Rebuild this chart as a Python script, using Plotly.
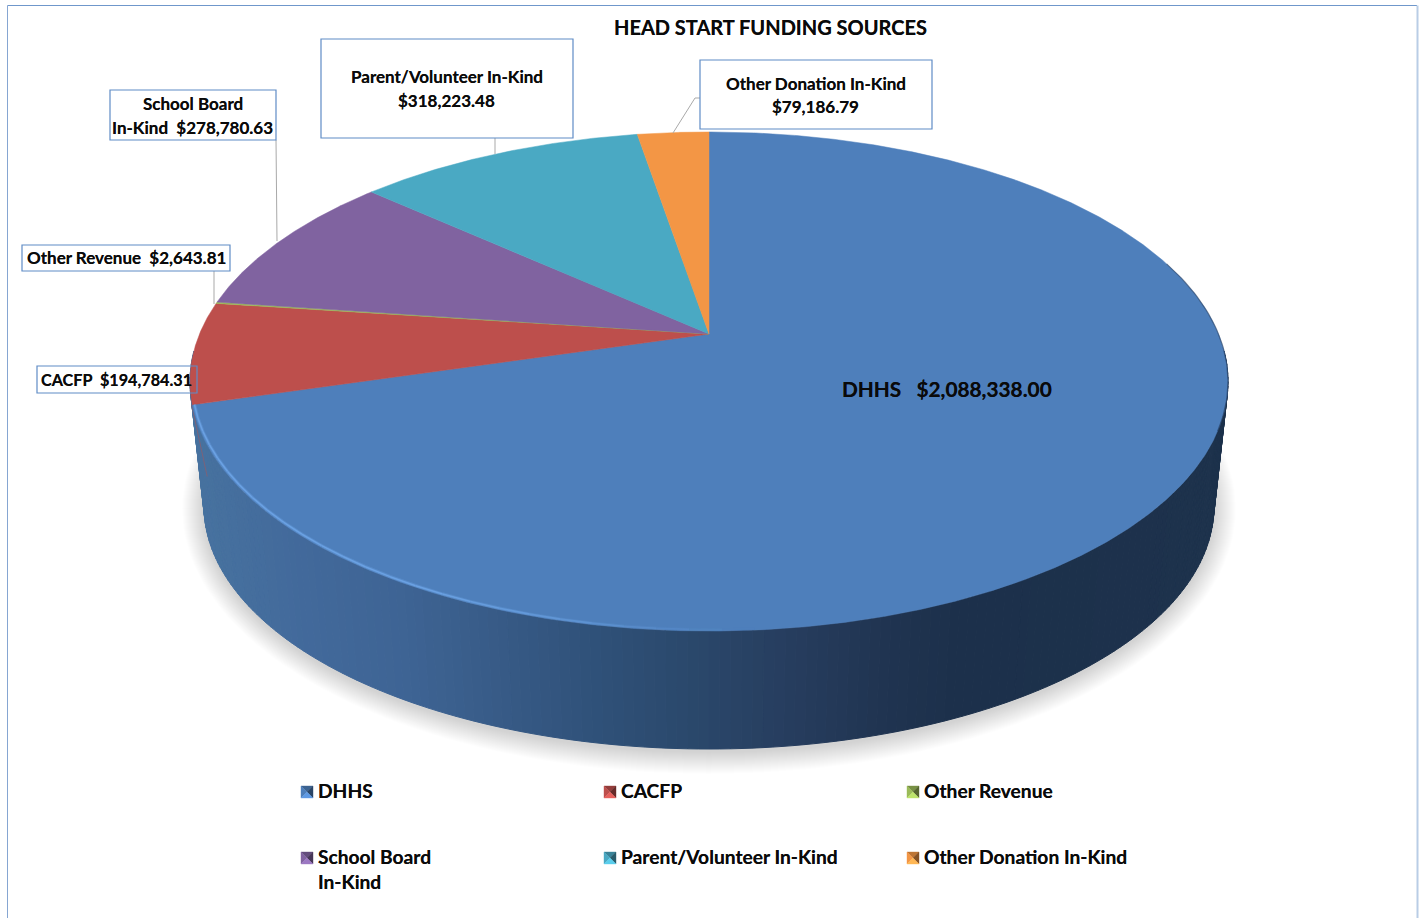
import numpy as np
import plotly.graph_objects as go

# Funding sources, clockwise from twelve o'clock
SOURCES = ["DHHS", "CACFP", "Other Revenue", "School Board In-Kind",
           "Parent/Volunteer In-Kind", "Other Donation In-Kind"]
AMOUNTS = [2088338.00, 194784.31, 2643.81, 278780.63, 318223.48, 79186.79]
SLICE_COLORS = ["#4e7fbb", "#bd4f4c", "#9bbb59", "#8063a0", "#4aa9c3", "#f39645"]
TITLE = "HEAD START FUNDING SOURCES"

FONT = "Lato, 'Open Sans', sans-serif"
INK = "#0a0a0a"
BOX_LINE = "#5f8cc6"
LEADER = "#a9a9a9"

# Perspective projection of the disc onto the page
CX, APEX_Y = 709.0, 334.0
K = 0.1904
A = -176.9
C = 509.5
DEPTH_SCALE = 0.973
VANISH_Y = 5000.0

W, H = 1422, 918


def project(theta_deg, r=1.0):
    t = np.radians(theta_deg)
    u, v = r * np.sin(t), r * np.cos(t)
    w = 1 + K * v
    return CX + C * u / w, (A * v + APEX_Y) / w


def lower(x, y):
    return CX + DEPTH_SCALE * (x - CX), VANISH_Y + DEPTH_SCALE * (y - VANISH_Y)


def hex_rgb(h):
    return np.array([int(h[i:i + 2], 16) for i in (1, 3, 5)], dtype=float)


def shade(h, f):
    c = np.clip(hex_rgb(h) * f, 0, 255).astype(int)
    return f"rgb({c[0]},{c[1]},{c[2]})"


total = sum(AMOUNTS)
edges = np.concatenate([[0.0], np.cumsum(AMOUNTS)]) / total * 360.0

fig = go.Figure()


def polygon(xs, ys, fill, line=None, width=0):
    fig.add_trace(go.Scatter(
        x=list(xs), y=list(ys), mode="lines", fill="toself", fillcolor=fill,
        line=dict(color=line or fill, width=width), hoverinfo="skip", showlegend=False))


# Soft drop shadow under the base
angles = np.linspace(0, 360, 181)
for e in range(1, 23):
    grow = 23 - e
    polygon(CX + (505 + grow) * np.sin(np.radians(angles)),
            509 + (243 + grow) * np.cos(np.radians(angles)),
            "rgba(0,0,0,0.0085)")

# Side wall: vertical strips shaded from left to right
WALL_X = [190, 300, 400, 500, 600, 700, 800, 900, 960, 1240]
WALL_RGB = np.array([hex_rgb(c) for c in
                     ["#47729f", "#42699b", "#3e6494", "#375a86", "#2f5078", "#2a476a",
                      "#263c5d", "#1f334f", "#1c304b", "#1d324c"]])
step = 1.0
for th in np.arange(94, 266, step):
    x0, y0 = project(th)
    x1, y1 = project(th + step)
    bx0, by0 = lower(x0, y0)
    bx1, by1 = lower(x1, y1)
    xm = (x0 + x1) / 2
    rgb = [np.interp(xm, WALL_X, WALL_RGB[:, i]) for i in range(3)]
    col = f"rgb({rgb[0]:.0f},{rgb[1]:.0f},{rgb[2]:.0f})"
    polygon([x0, x1, bx1, bx0, x0], [y0, y1, by1, by0, y0], col, col, 1)

# Faint red edge where the CACFP wall just shows past the silhouette
rx0, ry0 = project(edges[1])
rx1, ry1 = lower(*project(266.0))
fig.add_trace(go.Scatter(x=[rx0 - 0.6, rx1 - 0.6], y=[ry0, ry1], mode="lines", hoverinfo="skip",
                         showlegend=False, line=dict(color="rgba(189,79,76,0.45)", width=1)))

# Top face: one wedge per funding source
for i, color in enumerate(SLICE_COLORS):
    th = np.arange(edges[i], edges[i + 1], 0.25)
    th = np.append(th, edges[i + 1])
    rx, ry = project(th)
    polygon(np.concatenate([[CX], rx, [CX]]),
            np.concatenate([[APEX_Y], ry, [APEX_Y]]), color, color, 0.5)

# Bevel highlight along the front-left rim, fading towards the front
for th in np.arange(edges[1], 178, -3.0):
    seg = np.linspace(th, th - 3.0, 4)
    sx, sy = project(seg, 0.996)
    fade = min(1.0, (th - 178) / 30.0)
    for width, alpha in ((3.4, 0.30), (1.6, 0.75)):
        fig.add_trace(go.Scatter(
            x=sx, y=sy, mode="lines", hoverinfo="skip", showlegend=False,
            line=dict(color=f"rgba(112,168,235,{alpha * fade:.3f})", width=width)))

# Dark edge on the far right of the rim
sx, sy = project(np.linspace(72, 112, 50))
fig.add_trace(go.Scatter(x=sx, y=sy, mode="lines", hoverinfo="skip", showlegend=False,
                         line=dict(color="rgba(30,50,80,0.5)", width=1.2)))

# Leader lines from the rim to the callouts
LEADERS = [
    ([276, 277], [140, 241]),
    ([214, 214], [271, 304]),
    ([495, 495], [138, 154]),
    ([700, 695, 673], [98, 98, 133]),
]
for lx, ly in LEADERS:
    fig.add_trace(go.Scatter(x=lx, y=ly, mode="lines", hoverinfo="skip", showlegend=False,
                             line=dict(color=LEADER, width=1)))

shapes = []
annotations = []


def money(v):
    return f"${v:,.2f}"


def text(x, y, s, size, anchor="center", align="center"):
    # the light text shadow gives the labels a slightly heavier stroke
    annotations.append(dict(
        x=x, y=y, xref="x", yref="y", text=s, showarrow=False, xanchor=anchor, yanchor="middle",
        align=align, font=dict(family=FONT, size=size, color=INK, weight="bold",
                               shadow="0 0 0.6px rgba(0,0,0,0.7)")))


# Callout boxes, each with its text lines placed individually
CALLOUTS = [
    ((37, 197, 366, 393), [(379, f"{SOURCES[1]}  {money(AMOUNTS[1])}")], 16.2, 116),
    ((22, 230, 245, 271), [(257, f"{SOURCES[2]}  {money(AMOUNTS[2])}")], 17, 126),
    ((110, 276, 90, 140), [(103, "School Board"), (127, f"In-Kind  {money(AMOUNTS[3])}")], 17, 192.5),
    ((321, 573, 39, 138), [(76, SOURCES[4]), (100, money(AMOUNTS[4]))], 17, 446.5),
    ((700, 932, 60, 129), [(83, SOURCES[5]), (106, money(AMOUNTS[5]))], 17, 815.5),
]
for (x0, x1, y0, y1), lines, size, xc in CALLOUTS:
    shapes.append(dict(type="rect", x0=x0, x1=x1, y0=y0, y1=y1, xref="x", yref="y",
                       line=dict(color=BOX_LINE, width=1.2), fillcolor="rgba(0,0,0,0)"))
    for ly, s in lines:
        text(xc, ly, s, size)

text(947, 388.5, f"{SOURCES[0]}   {money(AMOUNTS[0])}", 20.8)
text(770, 27, TITLE, 20)

# Legend: bevelled keys with labels on a 3 x 2 grid
LEGEND_CELLS = [(301, 792), (604, 792), (907, 792), (301, 858), (604, 858), (907, 858)]
LEGEND_TEXT = ["DHHS", "CACFP", "Other Revenue", "School Board<br>In-Kind",
               "Parent/Volunteer In-Kind", "Other Donation In-Kind"]
FACETS = [  # each bevel facet of a key and its brightness
    ("M{l} {t} L{r} {t} L{m} {c} Z", 0.78),
    ("M{l} {t} L{m} {c} L{l} {b} Z", 1.0),
    ("M{r} {t} L{r} {b} L{m} {c} Z", 0.55),
    ("M{l} {b} L{r} {b} L{m} {c} Z", 1.22),
]
for (kx, ky), label, color in zip(LEGEND_CELLS, LEGEND_TEXT, SLICE_COLORS):
    for path, f in FACETS:
        c = shade(color, f)
        shapes.append(dict(
            type="path", xref="x", yref="y", line=dict(width=0.4, color=c), fillcolor=c,
            path=path.format(l=kx, r=kx + 12, m=kx + 6, t=ky - 6, b=ky + 6, c=ky)))
    if "<br>" in label:
        # two-line entry: first line sits level with its key
        text(kx + 15, ky + 11, label, 19.2, anchor="left", align="left")
    else:
        text(kx + 15, ky - 2, label, 19.2, anchor="left", align="left")

# Chart frame
shapes += [
    dict(type="line", xref="x", yref="y", x0=7.5, x1=1417, y0=5.5, y1=5.5,
         line=dict(color="#6f97cb", width=1)),
    dict(type="line", xref="x", yref="y", x0=7.5, x1=7.5, y0=5.5, y1=918,
         line=dict(color="#86a6d2", width=1)),
    dict(type="line", xref="x", yref="y", x0=1417.5, x1=1417.5, y0=5.5, y1=918,
         line=dict(color="#b9cde6", width=2)),
]

fig.update_layout(
    width=W, height=H, margin=dict(l=0, r=0, t=0, b=0),
    paper_bgcolor="white", plot_bgcolor="white", showlegend=False,
    xaxis=dict(range=[0, W], visible=False, fixedrange=True),
    yaxis=dict(range=[H, 0], visible=False, fixedrange=True),
    shapes=shapes, annotations=annotations,
)

fig.write_html("out.html")
